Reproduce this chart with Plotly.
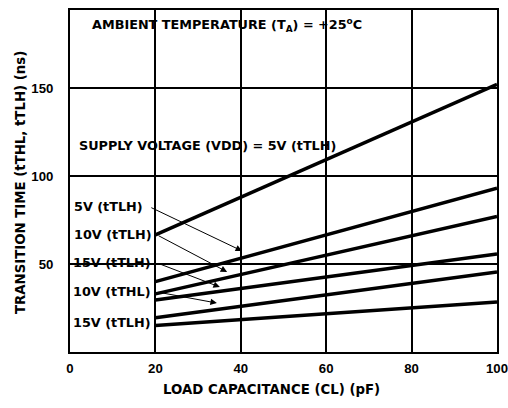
import plotly.graph_objects as go

# Data
load_pf = [20, 100]
series_names = ["5V (tTLH)", "10V (tTLH)", "15V (tTLH) a", "10V (tTHL)", "15V (tTHL)", "15V (tTLH) b"]
series_values = [
    [66.5, 152],
    [40, 93],
    [33, 77],
    [29.5, 55.7],
    [19.5, 45.5],
    [15, 28.4],
]
x_ticks = [0, 20, 40, 60, 80, 100]
y_ticks = [50, 100, 150]

label_texts = ["5V (tTLH)", "10V (tTLH)", "15V (tTLH)", "10V (tTHL)", "15V (tTLH)"]
label_x = [17.6, 19.6, 19.4, 19.4, 19.4]
label_y = [82.4, 66.5, 50.6, 34.1, 16.5]

# arrows: (tail x, tail y, head x, head y)
arrow_tail_x = [18.7, 20.4, 20.4, 20.4]
arrow_tail_y = [82.4, 66.5, 50.6, 34.1]
arrow_head_x = [40.3, 36.8, 35.1, 34.4]
arrow_head_y = [57.4, 45.5, 36.9, 27.8]

x_title = "LOAD CAPACITANCE (CL) (pF)"
y_title = "TRANSITION TIME (tTHL, tTLH) (ns)"

FONT = "DejaVu Sans, Liberation Sans, Arial, sans-serif"
TXT = dict(family=FONT, size=12.8, color="black", weight="bold")
TITLE = dict(family=FONT, size=13.3, color="black", weight="bold")
TICKF = dict(family="Liberation Sans, Arial, sans-serif", size=13.2, color="black", weight="bold")

fig = go.Figure()
for name, vals in zip(series_names, series_values):
    fig.add_trace(go.Scatter(x=load_pf, y=vals, mode="lines", name=name,
                             line=dict(color="black", width=3.5), showlegend=False))

annotations = []
for t, x, y in zip(label_texts, label_x, label_y):
    annotations.append(dict(x=x, y=y, xref="x", yref="y", text=t, showarrow=False,
                            xanchor="right", yanchor="middle", font=TXT))
for tx, ty, hx, hy in zip(arrow_tail_x, arrow_tail_y, arrow_head_x, arrow_head_y):
    annotations.append(dict(x=hx, y=hy, ax=tx, ay=ty, xref="x", yref="y", axref="x", ayref="y",
                            text="", showarrow=True, arrowhead=2, arrowsize=1.3,
                            arrowwidth=1, arrowcolor="black"))
annotations.append(dict(x=1.6, y=117.6, xref="x", yref="y",
                        text="SUPPLY VOLTAGE (VDD) = 5V (tTLH)", showarrow=False,
                        xanchor="left", yanchor="middle", font=TXT))
annotations.append(dict(x=4.7, y=185.8, xref="x", yref="y",
                        text="AMBIENT TEMPERATURE (T<sub>A</sub>) = +25<sup>o</sup>C", showarrow=False,
                        xanchor="left", yanchor="middle", font=TXT))
# axis titles (placed as in the reference)
annotations.append(dict(x=0.472, y=-0.111, xref="paper", yref="paper", text=x_title,
                        showarrow=False, xanchor="center", yanchor="middle", font=TITLE))
annotations.append(dict(x=-0.117, y=0.494, xref="paper", yref="paper", text=y_title,
                        showarrow=False, xanchor="center", yanchor="middle", textangle=-90,
                        font=TITLE))

fig.update_layout(
    width=508, height=408,
    margin=dict(l=70, r=11, t=10, b=56),
    paper_bgcolor="white", plot_bgcolor="white",
    annotations=annotations,
    font=dict(family=FONT, size=12, color="black", weight="bold"),
    xaxis=dict(range=[0, 100], tickvals=x_ticks, showgrid=True, gridcolor="black", gridwidth=2,
               showline=True, linecolor="black", linewidth=2, mirror=True, zeroline=False,
               ticks="", ticklen=0, ticklabelstandoff=3, ticklabeloverflow="allow",
               automargin=False, tickfont=TICKF),
    yaxis=dict(range=[0, 194.3], tickvals=y_ticks, showgrid=True, gridcolor="black", gridwidth=2,
               showline=True, linecolor="black", linewidth=2, mirror=True, zeroline=False,
               ticks="", ticklen=0, ticklabelstandoff=12, automargin=False,
               tickfont=TICKF),
)

fig.write_html("out.html", config={"displayModeBar": False},
               post_script="document.body.style.margin='0';")
